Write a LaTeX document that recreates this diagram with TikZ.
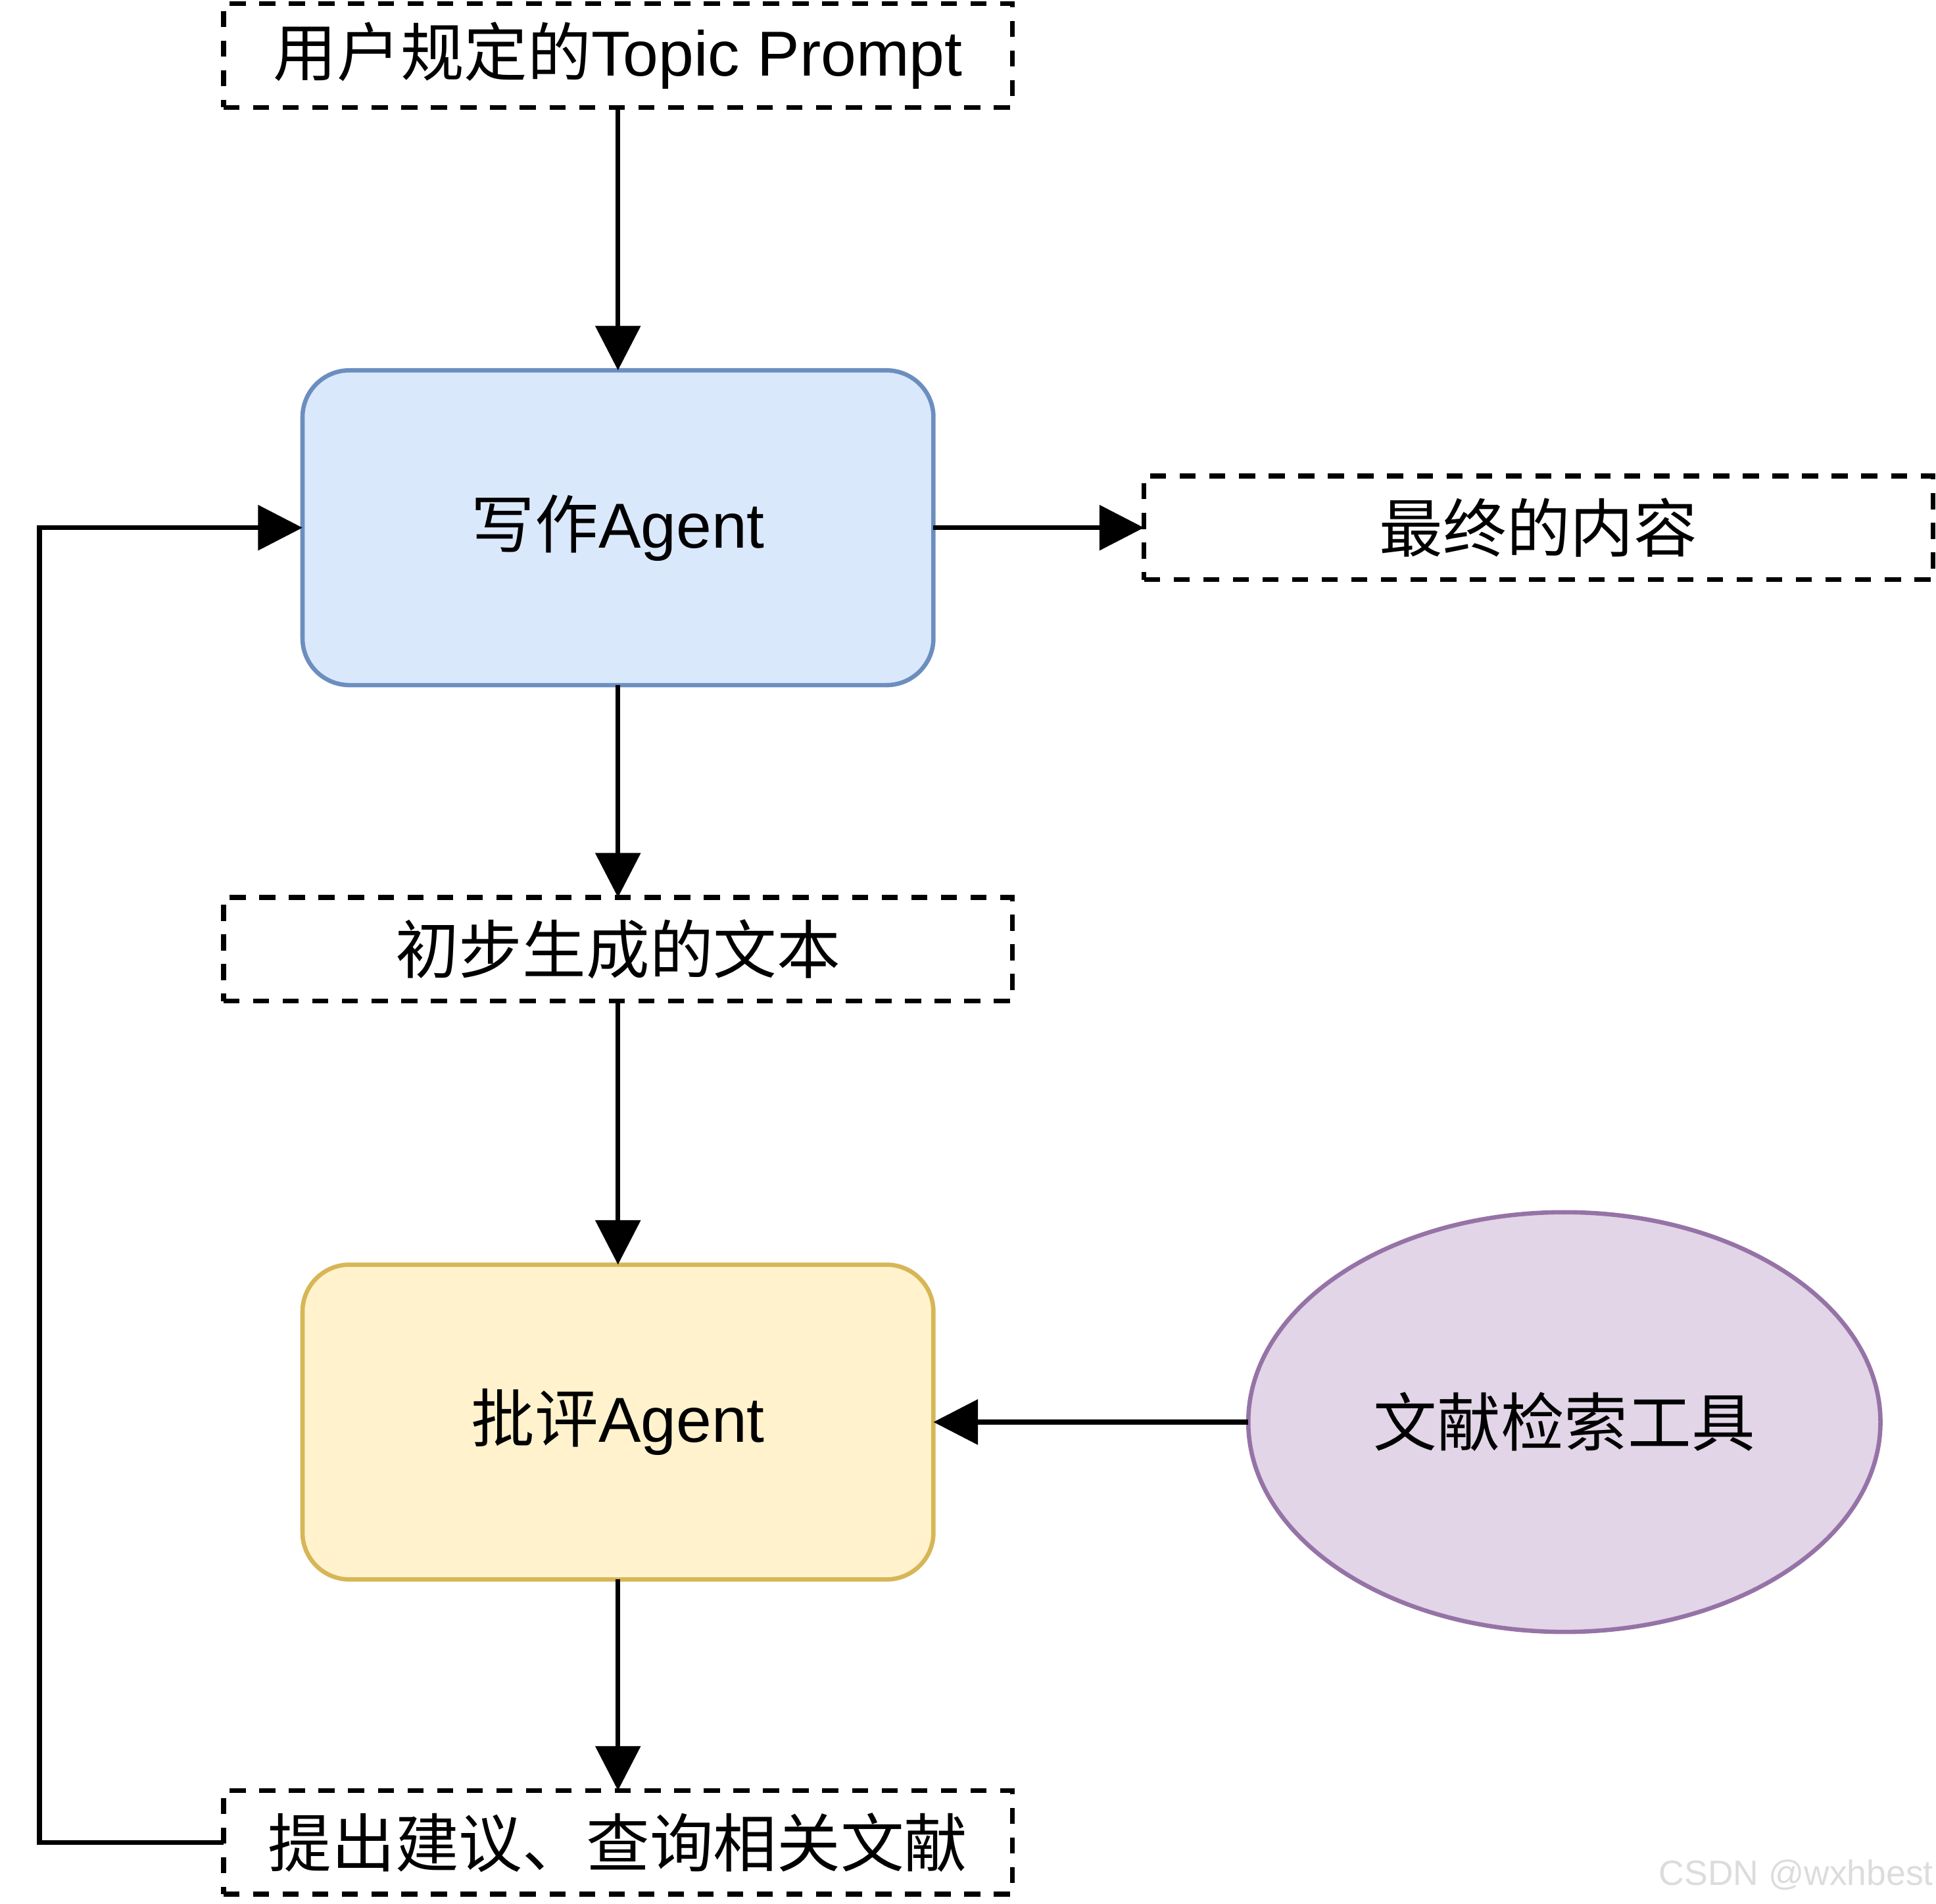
\documentclass[tikz,border=0pt]{standalone}
\usepackage{fontspec}
\setmainfont{Liberation Sans}
\newfontfamily\cjk{Noto Sans CJK SC}
\usetikzlibrary{arrows.meta,shapes.geometric}
\definecolor{bluefill}{HTML}{DAE8FC}
\definecolor{bluedraw}{HTML}{6C8EBF}
\definecolor{yelfill}{HTML}{FFF2CC}
\definecolor{yeldraw}{HTML}{D6B656}
\definecolor{purfill}{HTML}{E1D5E7}
\definecolor{purdraw}{HTML}{9673A6}
\definecolor{wmark}{HTML}{DCDCDC}
\tikzset{
  txt/.style={font=\fontsize{51.5}{60}\selectfont, inner sep=0pt, outer sep=0pt},
  dbox/.style={txt, draw=black, line width=4pt, dash pattern=on 13pt off 11pt,
    minimum width=639pt, minimum height=84pt},
  agent/.style={txt, line width=3.5pt, rounded corners=38pt,
    minimum width=511pt, minimum height=255pt},
  arr/.style={draw=black, line width=4pt, -{Triangle[length=36pt,width=36pt]}}
}
\begin{document}
\begin{tikzpicture}[x=1pt,y=-1pt]
\useasboundingbox (0,0) rectangle (1568,1542.4);
\node[dbox] (topic) at (500.5,45) {{\cjk 用户规定的}Topic Prompt};
\node[agent, draw=bluedraw, fill=bluefill] (writer) at (500.5,427.5) {{\cjk 写作}Agent};
\node[dbox] (final) at (1246,427.5) {\cjk 最终的内容};
\node[dbox] (draft) at (500.5,769) {\cjk 初步生成的文本};
\node[agent, draw=yeldraw, fill=yelfill] (critic) at (500.5,1152) {{\cjk 批评}Agent};
\node[txt, ellipse, draw=purdraw, fill=purfill, line width=3.5pt,
  minimum width=512pt, minimum height=340pt] (tool) at (1267,1152) {\cjk 文献检索工具};
\node[dbox] (advice) at (500.5,1492.5) {\cjk 提出建议、查询相关文献};
\draw[arr] (topic.south) -- (writer.north);
\draw[arr] (writer.east) -- (final.west);
\draw[arr] (writer.south) -- (draft.north);
\draw[arr] (draft.south) -- (critic.north);
\draw[arr] (tool.west) -- (critic.east);
\draw[arr] (critic.south) -- (advice.north);
\coordinate (corner) at (32,1492.5);
\draw[arr] (advice.west) -- (corner) |- (writer.west);
\node[anchor=base east, inner sep=0pt, text=wmark, font=\fontsize{28.5}{32}\selectfont] (wm) at (1566,1527) {CSDN @wxhbest};
\end{tikzpicture}
\end{document}
